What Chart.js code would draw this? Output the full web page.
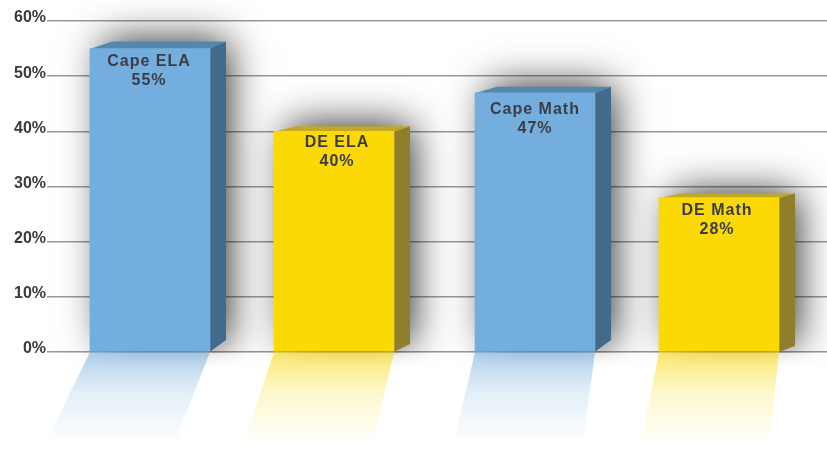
<!DOCTYPE html>
<html>
<head>
<meta charset="utf-8">
<style>
html,body{margin:0;padding:0;background:#fff;}
canvas{display:block;}
</style>
<script src="https://cdn.jsdelivr.net/npm/chart.js@4"></script>
</head>
<body>
<canvas id="barChart" width="827" height="455"></canvas>
<script>
const categories = ["Cape ELA","DE ELA","Cape Math","DE Math"];
const scores = [55,40,47,28];
const tickLabels = ["0%","10%","20%","30%","40%","50%","60%"];

const faceColors = ["#74aedf","#fbd905","#74aedf","#fbd905"];
const sideColors = ["#426a8a","#8f7f2c","#426a8a","#8f7f2c"];
const topColors = ["#5487ac","#c2a825","#5487ac","#c2a825"];
const reflectRgb = ["116,174,223","251,217,5","116,174,223","251,217,5"];

// the bars are not evenly spaced in the picture, nudge them off the category centres
const barNudge = [5.5,-5.5,0.5,-10.5];
const depthX = [16,16,16,16];
const topRise = [7,5,6,4];
const baseRise = [12,8,12,6];
const reflectSkew = [-44,-30,-21,-18];
const reflectDepth = 90;
const labelDrop = [17,16,21,17];
const labelShift = [-1,3,0,-2];

const nudgePlugin = {
    id:"nudge",
    afterDatasetsUpdate(chart){
        chart.getDatasetMeta(0).data.forEach((bar,i)=>{ bar.x += barNudge[i]; });
    }
};

const depthPlugin = {
    id:"depth",
    beforeDatasetsDraw(chart){
        const ctx = chart.ctx;
        const base = chart.scales.y.getPixelForValue(0);
        const bars = chart.getDatasetMeta(0).data;
        // shadow only: the rect itself sits off canvas
        bars.forEach((bar,i)=>{
            const l = bar.x-bar.width/2, r = bar.x+bar.width/2;
            ctx.save();
            ctx.shadowColor = "rgba(0,0,0,0.85)";
            ctx.shadowBlur = 38;
            ctx.shadowOffsetX = 2000;
            ctx.fillStyle = "#000";
            ctx.fillRect(l+14-2000,bar.y-topRise[i]-1,r-l+depthX[i]-12,base-bar.y+topRise[i]-6);
            ctx.restore();
        });
        // fade the shadows out under the floor line
        const fade = ctx.createLinearGradient(0,base+1,0,base+18);
        fade.addColorStop(0,"rgba(255,255,255,0.55)");
        fade.addColorStop(1,"rgba(255,255,255,1)");
        ctx.fillStyle = fade;
        ctx.fillRect(0,base+1,chart.width,17);
        ctx.fillStyle = "#fff";
        ctx.fillRect(0,base+18,chart.width,chart.height-base-18);
        bars.forEach((bar,i)=>{
            const l = bar.x-bar.width/2, r = bar.x+bar.width/2;
            // reflection on the floor
            const grad = ctx.createLinearGradient(0,base,0,base+reflectDepth);
            grad.addColorStop(0,"rgba("+reflectRgb[i]+",0.58)");
            grad.addColorStop(0.45,"rgba("+reflectRgb[i]+",0.2)");
            grad.addColorStop(1,"rgba("+reflectRgb[i]+",0.01)");
            ctx.fillStyle = grad;
            ctx.beginPath();
            ctx.moveTo(l,base);
            ctx.lineTo(r,base);
            ctx.lineTo(r+reflectSkew[i]+9,base+reflectDepth);
            ctx.lineTo(l+reflectSkew[i],base+reflectDepth);
            ctx.closePath();
            ctx.fill();
            // right side
            ctx.fillStyle = sideColors[i];
            ctx.beginPath();
            ctx.moveTo(r-0.5,bar.y);
            ctx.lineTo(r+depthX[i],bar.y-topRise[i]);
            ctx.lineTo(r+depthX[i],base-baseRise[i]);
            ctx.lineTo(r-0.5,base);
            ctx.closePath();
            ctx.fill();
            // top
            ctx.fillStyle = topColors[i];
            ctx.beginPath();
            ctx.moveTo(l,bar.y+0.5);
            ctx.lineTo(l+22,bar.y-topRise[i]);
            ctx.lineTo(r+depthX[i],bar.y-topRise[i]);
            ctx.lineTo(r,bar.y+0.5);
            ctx.closePath();
            ctx.fill();
        });
    },
    afterDatasetsDraw(chart){
        const ctx = chart.ctx;
        chart.getDatasetMeta(0).data.forEach((bar,i)=>{
            ctx.save();
            ctx.fillStyle = "#3c3d44";
            ctx.font = "bold 16px 'Liberation Sans'";
            ctx.letterSpacing = "1px";
            ctx.textAlign = "center";
            ctx.textBaseline = "alphabetic";
            ctx.fillText(categories[i],bar.x+labelShift[i],bar.y+labelDrop[i]);
            ctx.fillText(scores[i]+"%",bar.x+labelShift[i],bar.y+labelDrop[i]+19);
            ctx.restore();
        });
    }
};

new Chart(document.getElementById("barChart"),{
    type:"bar",
    data:{
        labels:categories,
        datasets:[{data:scores,backgroundColor:faceColors,barThickness:120,borderWidth:0}]
    },
    options:{
        responsive:false,
        animation:false,
        layout:{padding:{top:21,bottom:103,left:0,right:0}},
        plugins:{legend:{display:false},tooltip:{enabled:false}},
        scales:{
            x:{display:false},
            y:{
                min:0,max:60,
                afterFit(s){ s.width = 47; s.paddingTop = 0; s.paddingBottom = 0; },
                grid:{color:"#9a9a9a",lineWidth:1.6,drawTicks:false},
                border:{display:false},
                ticks:{
                    stepSize:10,
                    padding:1,
                    labelOffset:-3,
                    color:"#3a3a3c",
                    font:{family:"'Liberation Sans'",size:16,weight:"bold"},
                    callback:(v,i)=>tickLabels[i]
                }
            }
        }
    },
    plugins:[nudgePlugin,depthPlugin]
});
</script>
</body>
</html>
